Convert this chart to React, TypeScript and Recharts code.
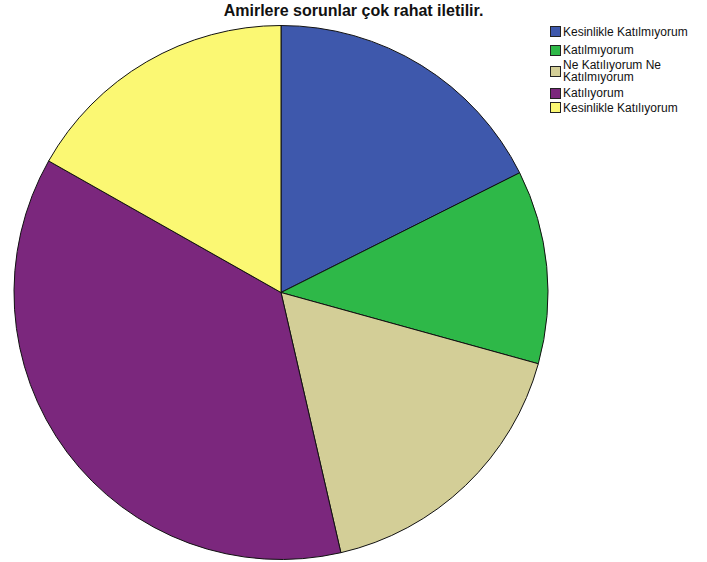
import React from 'react';
import { PieChart, Pie, Cell, Legend } from 'recharts';

const categories = [
  'Kesinlikle Katılmıyorum',
  'Katılmıyorum',
  'Ne Katılıyorum Ne Katılmıyorum',
  'Katılıyorum',
  'Kesinlikle Katılıyorum',
];
const percents = [17.6, 11.7, 17.1, 36.8, 16.8];
const COLORS = ['#3E58AC', '#2EB848', '#D3CE97', '#7B277D', '#FBF873'];

const data = categories.map((name, i) => ({ name, value: percents[i] }));

// legend text wraps like the SPSS output
const legendLines: Record<string, string[]> = {
  'Ne Katılıyorum Ne Katılmıyorum': ['Ne Katılıyorum Ne', 'Katılmıyorum'],
};
const legendRowCenters = [31.5, 50, 71, 93, 107.5];

function LegendBox() {
  return (
    <div style={{ position: 'relative', fontFamily: 'Liberation Sans, Arial, sans-serif', fontSize: 12, color: '#111' }}>
      {data.map((d, i) => {
        const lines = legendLines[d.name] || [d.name];
        const h = lines.length * 12;
        return (
          <div
            key={d.name}
            style={{ position: 'absolute', left: 0, top: legendRowCenters[i] - h / 2, height: h, display: 'flex', alignItems: 'center', whiteSpace: 'nowrap' }}
          >
            <span
              style={{
                width: 9,
                height: 9,
                background: COLORS[i],
                border: '1px solid #222',
                marginRight: 2,
                flexShrink: 0,
              }}
            />
            <span style={{ lineHeight: '12px', whiteSpace: 'pre' }}>{lines.join('\n')}</span>
          </div>
        );
      })}
    </div>
  );
}

export default function App() {
  return (
    <div style={{ position: 'absolute', left: 0, top: 0, width: 707, height: 562, background: '#fff' }}>
      <div
        style={{
          position: 'absolute',
          left: 0,
          top: 0,
          width: 707,
          textAlign: 'center',
          fontFamily: 'Liberation Sans, Arial, sans-serif',
          fontWeight: 'bold',
          fontSize: 16,
          lineHeight: '21px',
          color: '#111',
        }}
      >
        Amirlere sorunlar çok rahat iletilir.
      </div>
      <PieChart width={707} height={562} margin={{ top: 0, right: 0, bottom: 0, left: 0 }}>
        <Pie
          data={data}
          dataKey="value"
          nameKey="name"
          cx={281}
          cy={292.5}
          outerRadius={267}
          startAngle={90}
          endAngle={-270}
          stroke="#111"
          strokeWidth={1}
          isAnimationActive={false}
        >
          {data.map((entry, index) => (
            <Cell key={`cell-${index}`} fill={COLORS[index % COLORS.length]} />
          ))}
        </Pie>
        <Legend
          layout="vertical"
          verticalAlign="top"
          align="right"
          content={() => <LegendBox />}
          wrapperStyle={{ position: 'absolute', left: 550, top: 0, width: 155, height: 120 }}
        />
      </PieChart>
    </div>
  );
}
